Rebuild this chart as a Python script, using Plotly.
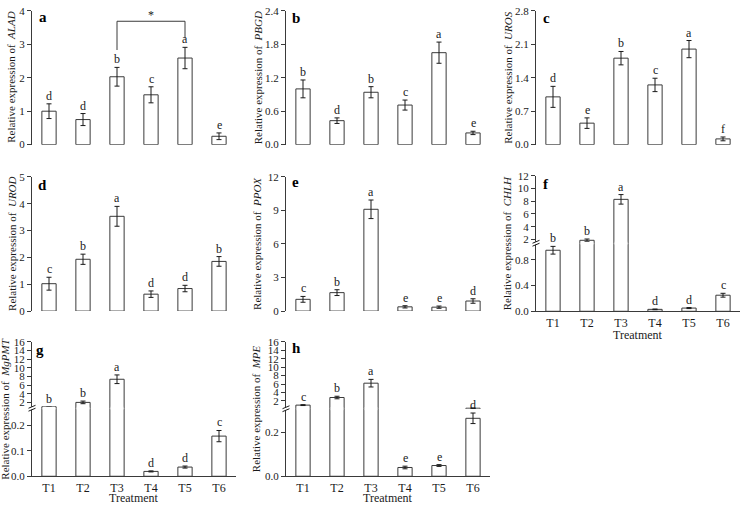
import plotly.graph_objects as go

categories = ["T1", "T2", "T3", "T4", "T5", "T6"]

# a  ALAD
alad = [1.0, 0.75, 2.03, 1.49, 2.59, 0.25]
alad_err = [0.22, 0.18, 0.28, 0.24, 0.32, 0.10]
alad_sig = ["d", "d", "b", "c", "a", "e"]
# b  PBGD
pbgd = [1.0, 0.43, 0.94, 0.71, 1.65, 0.21]
pbgd_err = [0.16, 0.05, 0.10, 0.09, 0.19, 0.03]
pbgd_sig = ["b", "d", "b", "c", "a", "e"]
# c  UROS
uros = [1.0, 0.45, 1.81, 1.25, 2.0, 0.12]
uros_err = [0.22, 0.11, 0.14, 0.14, 0.18, 0.04]
uros_sig = ["d", "e", "b", "c", "a", "f"]
# d  UROD
urod = [1.02, 1.93, 3.53, 0.63, 0.84, 1.85]
urod_err = [0.24, 0.19, 0.37, 0.12, 0.12, 0.18]
urod_sig = ["c", "b", "a", "d", "d", "b"]
# e  PPOX
ppox = [1.05, 1.65, 9.1, 0.38, 0.35, 0.9]
ppox_err = [0.26, 0.26, 0.83, 0.10, 0.10, 0.20]
ppox_sig = ["c", "b", "a", "e", "e", "d"]
# f  CHLH
chlh = [0.95, 1.85, 8.3, 0.03, 0.05, 0.25]
chlh_err = [0.06, 0.20, 0.75, 0.005, 0.008, 0.03]
chlh_sig = ["b", "b", "a", "d", "d", "c"]
# g  MgPMT
mgpmt = [1.0, 2.0, 7.35, 0.019, 0.036, 0.157]
mgpmt_err = [0.03, 0.3, 1.0, 0.002, 0.004, 0.022]
mgpmt_sig = ["b", "b", "a", "d", "d", "c"]
# h  MPE
mpe = [1.0, 2.8, 6.2, 0.04, 0.049, 0.264]
mpe_err = [0.1, 0.3, 0.9, 0.006, 0.004, 0.024]
mpe_sig = ["c", "b", "a", "e", "e", "d"]

W, H = 740, 506
FONT = "Liberation Serif"
INK = "#1a1a1a"
LINE = "#3a3a3a"


def fx(x):
    return x / W


def fy(y):
    return 1 - y / H


fig = go.Figure()
layout = {}
annotations = []
shapes = []
counter = [0]


def add_axes(xd, yd, yrange, tickvals, ticktext, bottom=False, xline=False):
    counter[0] += 1
    i = counter[0]
    xk = "xaxis" if i == 1 else f"xaxis{i}"
    yk = "yaxis" if i == 1 else f"yaxis{i}"
    xr = "x" if i == 1 else f"x{i}"
    yr = "y" if i == 1 else f"y{i}"
    layout[xk] = dict(
        domain=[fx(xd[0]), fx(xd[1])], anchor=yr, type="category",
        categoryorder="array", categoryarray=categories, range=[-0.5, 5.5],
        showline=xline, linecolor=LINE, linewidth=1, showgrid=False, zeroline=False,
        ticks="", showticklabels=bottom,
        tickfont=dict(family=FONT, size=12, color=INK),
    )
    layout[yk] = dict(
        domain=[fy(yd[1]), fy(yd[0])], anchor=xr, range=yrange,
        tickvals=tickvals, ticktext=ticktext, showline=True, linecolor=LINE,
        linewidth=1, ticks="outside", ticklen=4, tickcolor=LINE,
        showgrid=False, zeroline=False,
        tickfont=dict(family=FONT, size=11, color=INK),
    )
    return xr, yr


def add_bars(xr, yr, vals, errs):
    fig.add_trace(go.Bar(
        x=categories, y=vals, xaxis=xr, yaxis=yr, width=0.42,
        marker=dict(color="white", line=dict(color=LINE, width=1)),
        error_y=dict(type="data", array=errs, visible=True, color=INK,
                     thickness=1, width=2.5),
        showlegend=False, hoverinfo="skip",
    ))


def add_letters(xr, yr, vals, errs, sig, cond=None):
    for k, c in enumerate(categories):
        if cond is not None and not cond(vals[k]):
            continue
        annotations.append(dict(
            x=c, y=vals[k] + errs[k], xref=xr, yref=yr, text=sig[k],
            showarrow=False, yanchor="bottom", xanchor="center", yshift=-1,
            font=dict(family=FONT, size=12, color=INK),
        ))


def ytitle(x, y, gene):
    annotations.append(dict(
        x=fx(x), y=fy(y), xref="paper", yref="paper", textangle=-90,
        xanchor="center", yanchor="middle", borderpad=0,
        text=f"Relative expression of  <i>{gene}</i>", showarrow=False,
        font=dict(family=FONT, size=11, color=INK),
    ))


def plabel(x, y, t):
    annotations.append(dict(
        x=fx(x), y=fy(y), xref="paper", yref="paper", text=f"<b>{t}</b>",
        xanchor="center", yanchor="middle",
        showarrow=False, font=dict(family=FONT, size=15, color="black"),
    ))


def simple_panel(xd, yd, yrange, tv, tt, vals, errs, sig):
    xr, yr = add_axes(xd, yd, yrange, tv, tt)
    add_bars(xr, yr, vals, errs)
    add_letters(xr, yr, vals, errs, sig)
    return xr, yr


def broken_panel(xd, ybot, ybrk, ytop, lrange, ltv, ltt, urange, utv, utt,
                 vals, errs, sig):
    xl, yl = add_axes(xd, (ybrk, ybot), lrange, ltv, ltt, bottom=True, xline=True)
    add_bars(xl, yl, vals, errs)
    add_letters(xl, yl, vals, errs, sig, cond=lambda v: v <= lrange[1] * 0.97)
    xu, yu = add_axes(xd, (ytop, ybrk), urange, utv, utt)
    up_vals = [v if v > urange[0] else None for v in vals]
    up_errs = [e if v > urange[0] else None for v, e in zip(vals, errs)]
    add_bars(xu, yu, up_vals, up_errs)
    add_letters(xu, yu, vals, errs, sig, cond=lambda v: v > lrange[1] * 0.97)
    # hide the clipped horizontal edges where a bar crosses the break
    for k, v in enumerate(vals):
        if v > lrange[1]:
            shapes.append(dict(type="line", xref=xl, yref="paper", layer="above",
                               x0=k - 0.185, x1=k + 0.185,
                               y0=fy(ybrk), y1=fy(ybrk),
                               line=dict(color="white", width=3)))
    # break mark on y axis
    ax = xd[0]
    shapes.append(dict(type="rect", xref="paper", yref="paper",
                       x0=fx(ax - 2), x1=fx(ax + 2), y0=fy(ybrk + 1.5), y1=fy(ybrk - 1.5),
                       fillcolor="white", line=dict(width=0)))
    for dy in (-1.5, 1.5):
        shapes.append(dict(type="line", xref="paper", yref="paper",
                           x0=fx(ax - 3.5), y0=fy(ybrk + dy + 1.5),
                           x1=fx(ax + 3.5), y1=fy(ybrk + dy - 1.5),
                           line=dict(color=INK, width=1)))


col1 = (32, 236)
col2 = (286, 490)
col3 = (536, 740)
row1 = (5, 142)
row2 = (175, 312.5)

# a
xa, ya = simple_panel(col1, row1, [0, 4], [0, 1, 2, 3, 4], ["0", "1", "2", "3", "4"],
                      alad, alad_err, alad_sig)
# bracket in a
shapes.append(dict(type="path", xref=xa, yref=ya,
                   path="M 2,2.83 L 2,3.69 L 4,3.69 L 4,3.18",
                   line=dict(color=LINE, width=1)))
annotations.append(dict(x=3, y=3.69, xref=xa, yref=ya, text="*", showarrow=False,
                        yanchor="bottom", xanchor="center", yshift=-3,
                        font=dict(family=FONT, size=12, color=INK)))
# b
simple_panel(col2, row1, [0, 2.4], [0, 0.6, 1.2, 1.8, 2.4],
             ["0.0", "0.6", "1.2", "1.8", "2.4"], pbgd, pbgd_err, pbgd_sig)
# c
simple_panel(col3, row1, [0, 2.8], [0, 0.7, 1.4, 2.1, 2.8],
             ["0.0", "0.7", "1.4", "2.1", "2.8"], uros, uros_err, uros_sig)
# d
simple_panel(col1, row2, [0, 5], [0, 1, 2, 3, 4, 5], ["0", "1", "2", "3", "4", "5"],
             urod, urod_err, urod_sig)
# e
simple_panel(col2, row2, [0, 12], [0, 3, 6, 9, 12], ["0", "3", "6", "9", "12"],
             ppox, ppox_err, ppox_sig)
# f
broken_panel(col3, 312.7, 243, 174, [0, 1.059], [0, 0.4, 0.8], ["0.0", "0.4", "0.8"],
             [1.385, 12], [2, 4, 6, 8, 10, 12], ["2", "4", "6", "8", "10", "12"],
             chlh, chlh_err, chlh_sig)
# g
broken_panel(col1, 481.7, 412, 344, [0, 0.266], [0, 0.1, 0.2], ["0.0", "0.1", "0.2"],
             [0.65, 16], [2, 4, 6, 8, 10, 12, 14, 16],
             ["2", "4", "6", "8", "10", "12", "14", "16"],
             mgpmt, mgpmt_err, mgpmt_sig)
# h
broken_panel(col2, 481.7, 412.5, 344, [0, 0.3076], [0, 0.2], ["0.0", "0.2"],
             [0.144, 16], [2, 4, 6, 8, 10, 12, 14, 16],
             ["2", "4", "6", "8", "10", "12", "14", "16"],
             mpe, mpe_err, mpe_sig)

# y titles
ytitle(11, 73.5, "ALAD")
ytitle(257.5, 73.5, "PBGD")
ytitle(508, 73.5, "UROS")
ytitle(12, 243.7, "UROD")
ytitle(257, 243.7, "PPOX")
ytitle(507, 243, "CHLH")
ytitle(5.5, 413, "MgPMT")
ytitle(256, 413, "MPE")

# panel letters
plabel(43, 11, "a")
plabel(295.5, 12, "b")
plabel(546, 12, "c")
plabel(42, 183, "d")
plabel(295.5, 180, "e")
plabel(546, 182, "f")
plabel(39.5, 352, "g")
plabel(296.5, 350, "h")

# Treatment titles (top of text box placed just under the tick labels)
for (x, y) in [(638, 328), (134, 495), (388, 495)]:
    annotations.append(dict(x=fx(x), y=fy(y), xref="paper", yref="paper",
                            xanchor="center", yanchor="top",
                            text="Treatment", showarrow=False,
                            font=dict(family=FONT, size=12, color=INK)))

fig.update_layout(
    width=W, height=H, margin=dict(l=0, r=0, t=0, b=0),
    paper_bgcolor="white", plot_bgcolor="white", showlegend=False,
    annotations=annotations, shapes=shapes, **layout,
)

fig.write_html(
    "out.html",
    config={"displayModeBar": False},
    post_script="document.body.style.margin='0';document.body.style.padding='0';"
                "document.body.style.overflow='hidden';",
)
